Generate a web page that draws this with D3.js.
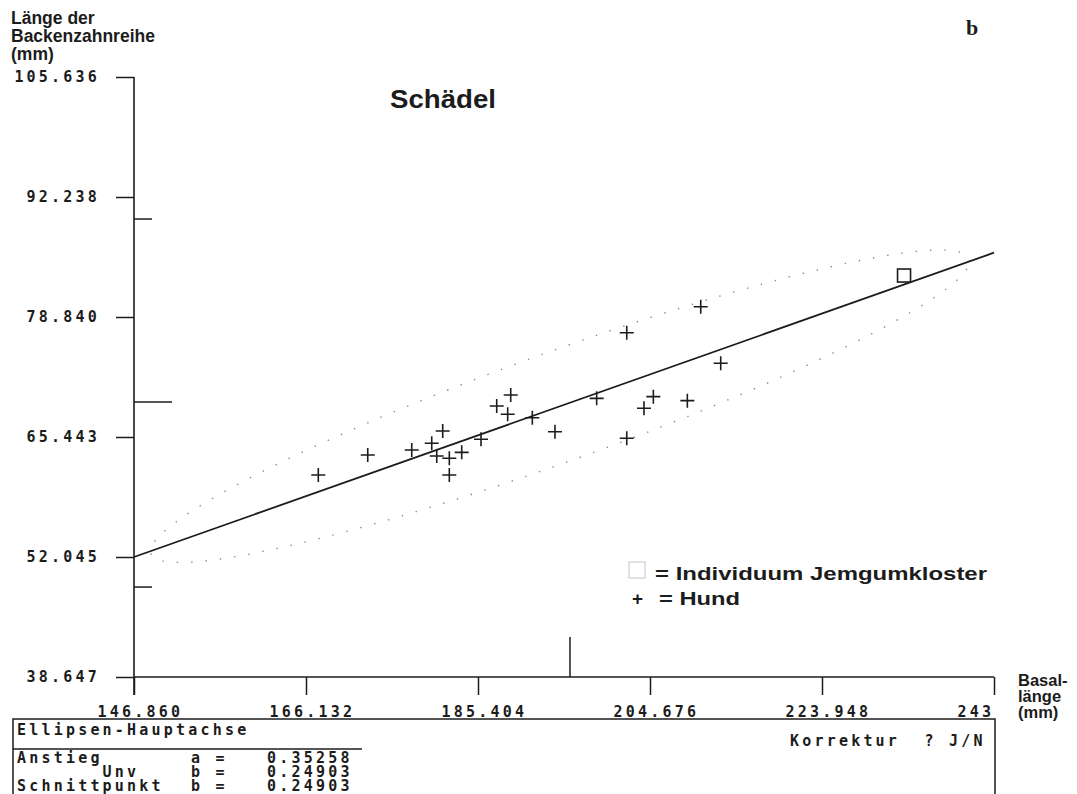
<!DOCTYPE html>
<html>
<head>
<meta charset="utf-8">
<script src="https://cdn.jsdelivr.net/npm/d3@7"></script>
<style>
  html, body { margin: 0; padding: 0; background: #fff; }
  svg { display: block; }
</style>
</head>
<body>
<script>
// ---------- data ----------
const xTicks = [146.860, 166.132, 185.404, 204.676, 223.948, 243.220];
const xTickLabels = ["146.860", "166.132", "185.404", "204.676", "223.948", "243"];
const yTicks = [38.647, 52.045, 65.443, 78.840, 92.238, 105.636];
const yTickLabels = ["38.647", "52.045", "65.443", "78.840", "92.238", "105.636"];

// Hund (+)
const hundX = [167.51, 173.05, 177.98, 180.22, 181.45, 180.78, 182.19, 183.58, 182.19, 185.74,
               187.50, 189.07, 188.73, 191.49, 194.03, 198.70, 202.07, 202.07, 204.00, 205.05,
               208.86, 210.36, 212.60];
const hundY = [61.20, 63.43, 63.99, 64.74, 66.11, 63.32, 63.07, 63.73, 61.20, 65.19,
               68.90, 70.13, 67.98, 67.60, 66.03, 69.76, 77.09, 65.30, 68.65, 69.95,
               69.50, 79.99, 73.67];
// Individuum Jemgumkloster (square)
const indivX = [233.14];
const indivY = [83.47];

// Ellipsen-Hauptachse
const slopeA = 0.35258;
const lineStartY = 52.045;
// ellipse (along main axis)
const ellipseCenterX = 194.6;
const ellipseHalfLengthX = 45.9;
const ellipseHalfWidthY = 6.5;
// marks on axes (mean / range)
const yMarks = [89.78, 69.35, 48.69];
const yMarkIsMean = [false, true, false];
const xMarks = [195.71];

const boxLines = [
  ["Anstieg", "a =", "0.35258"],
  ["       Unv", "b =", "0.24903"],
  ["Schnittpunkt", "b =", "0.24903"]
];

// ---------- setup ----------
const W = 1077, H = 794;
const svg = d3.select("body").append("svg").attr("width", W).attr("height", H);

const x = d3.scaleLinear().domain([xTicks[0], xTicks[xTicks.length - 1]]).range([134, 994]);
const y = d3.scaleLinear().domain([yTicks[0], yTicks[yTicks.length - 1]]).range([677, 77]);

const ink = "#1c1c1c";
const mono = "'DejaVu Sans Mono', monospace";
const sans = "'Liberation Sans', Arial, sans-serif";
const monoSize = 15, monoSpacing = 3.2;

// ---------- axes ----------
const gy = svg.append("g").attr("transform", "translate(134,0)")
  .call(d3.axisLeft(y).tickValues(yTicks).tickFormat((d, i) => yTickLabels[i]).tickSize(18).tickPadding(16));
gy.select(".domain").remove();
gy.selectAll(".tick line").attr("stroke", ink).attr("stroke-width", 1.5);
gy.selectAll(".tick text").attr("fill", ink).style("font-family", mono).style("font-size", monoSize + "px")
  .style("font-weight", "bold").style("letter-spacing", monoSpacing + "px");

const gx = svg.append("g").attr("transform", "translate(0,677)")
  .call(d3.axisBottom(x).tickValues(xTicks).tickFormat((d, i) => xTickLabels[i]).tickSize(18));
gx.select(".domain").remove();
gx.selectAll(".tick line").attr("stroke", ink).attr("stroke-width", 1.5);
gx.selectAll(".tick text").attr("fill", ink).attr("text-anchor", "start").attr("x", -37).attr("y", 40).attr("dy", 0)
  .style("font-family", mono).style("font-size", monoSize + "px").style("font-weight", "bold")
  .style("letter-spacing", monoSpacing + "px");

// axis lines
svg.append("line").attr("x1", x(xTicks[0])).attr("x2", x(xTicks[0]))
  .attr("y1", y(yTicks[yTicks.length - 1])).attr("y2", 695).attr("stroke", ink).attr("stroke-width", 1.6);
svg.append("line").attr("x1", x(xTicks[0])).attr("x2", x(xTicks[xTicks.length - 1]))
  .attr("y1", y(yTicks[0])).attr("y2", y(yTicks[0])).attr("stroke", ink).attr("stroke-width", 1.6);

// marks on the y axis (right side) and x axis (upward)
svg.selectAll(".ymark").data(yMarks).enter().append("line")
  .attr("x1", x(xTicks[0])).attr("x2", (d, i) => x(xTicks[0]) + (yMarkIsMean[i] ? 38 : 18))
  .attr("y1", d => y(d)).attr("y2", d => y(d)).attr("stroke", ink).attr("stroke-width", 1.5);
svg.selectAll(".xmark").data(xMarks).enter().append("line")
  .attr("x1", d => x(d)).attr("x2", d => x(d))
  .attr("y1", y(yTicks[0])).attr("y2", y(yTicks[0]) - 40).attr("stroke", ink).attr("stroke-width", 1.5);

// ---------- ellipse (dotted) ----------
const lineY = xv => lineStartY + slopeA * (xv - xTicks[0]);
const ellPts = d3.range(0, 361, 2).map(deg => {
  const t = deg * Math.PI / 180;
  const xv = ellipseCenterX + ellipseHalfLengthX * Math.cos(t);
  const yv = lineY(xv) + ellipseHalfWidthY * Math.sin(t);
  return [x(xv), y(yv)];
});
svg.append("path").attr("d", d3.line()(ellPts)).attr("fill", "none")
  .attr("stroke", "#8a8a8a").attr("stroke-width", 1.4).attr("stroke-dasharray", "1.4 13");

// ---------- regression line ----------
const x0 = xTicks[0], x1 = xTicks[xTicks.length - 1];
svg.append("line").attr("x1", x(x0)).attr("y1", y(lineY(x0))).attr("x2", x(x1)).attr("y2", y(lineY(x1)))
  .attr("stroke", ink).attr("stroke-width", 1.8);

// ---------- points ----------
svg.selectAll(".hund").data(hundX).enter().append("path")
  .attr("transform", (d, i) => `translate(${x(d)},${y(hundY[i])})`)
  .attr("d", "M-7,0H7M0,-7V7").attr("stroke", ink).attr("stroke-width", 1.6).attr("fill", "none");

svg.selectAll(".indiv").data(indivX).enter().append("rect")
  .attr("x", d => x(d) - 6.5).attr("y", (d, i) => y(indivY[i]) - 6.5).attr("width", 13).attr("height", 13)
  .attr("fill", "#fff").attr("stroke", ink).attr("stroke-width", 1.6);

// ---------- texts ----------
const yTitle = ["Länge der", "Backenzahnreihe", "(mm)"];
svg.selectAll(".ytitle").data(yTitle).enter().append("text")
  .attr("x", 11).attr("y", (d, i) => 24 + i * 18).text(d => d)
  .attr("fill", ink).style("font-family", sans).style("font-weight", "bold").style("font-size", "17.5px");

const xTitle = ["Basal-", "länge", "(mm)"];
svg.selectAll(".xtitle").data(xTitle).enter().append("text")
  .attr("x", 1018).attr("y", (d, i) => 686 + i * 16).text(d => d)
  .attr("fill", ink).style("font-family", sans).style("font-weight", "bold").style("font-size", "16.5px");

svg.append("text").attr("x", 390).attr("y", 108).text("Schädel")
  .attr("textLength", 106).attr("lengthAdjust", "spacingAndGlyphs")
  .attr("fill", ink).style("font-family", sans).style("font-weight", "bold").style("font-size", "25px");

svg.append("text").attr("x", 966).attr("y", 35).text("b")
  .attr("fill", ink).style("font-family", "'Liberation Serif', serif").style("font-weight", "bold").style("font-size", "22px");

// legend
svg.append("rect").attr("x", 629).attr("y", 562).attr("width", 16).attr("height", 16)
  .attr("fill", "none").attr("stroke", "#d8d8d8").attr("stroke-width", 1.5);
svg.append("text").attr("x", 655).attr("y", 580).text("= Individuum Jemgumkloster")
  .attr("textLength", 332).attr("lengthAdjust", "spacingAndGlyphs")
  .attr("fill", ink).style("font-family", sans).style("font-weight", "bold").style("font-size", "19px");
svg.append("text").attr("x", 632).attr("y", 605).text("+")
  .attr("fill", ink).style("font-family", sans).style("font-weight", "bold").style("font-size", "19px");
svg.append("text").attr("x", 659).attr("y", 605).text("= Hund")
  .attr("textLength", 81).attr("lengthAdjust", "spacingAndGlyphs")
  .attr("fill", ink).style("font-family", sans).style("font-weight", "bold").style("font-size", "19px");

// ---------- bottom box ----------
svg.append("path").attr("d", "M13,800V719H995V800").attr("fill", "none").attr("stroke", ink).attr("stroke-width", 1.5);
svg.append("line").attr("x1", 13).attr("x2", 362).attr("y1", 749).attr("y2", 749).attr("stroke", ink).attr("stroke-width", 1.5);

function mtext(str, xx, yy) {
  svg.append("text").attr("x", xx).attr("y", yy).text(str).attr("xml:space", "preserve")
    .style("white-space", "pre")
    .attr("fill", ink).style("font-family", mono).style("font-size", monoSize + "px").style("font-weight", "bold")
    .style("letter-spacing", monoSpacing + "px");
}
mtext("Ellipsen-Hauptachse", 17, 735);
mtext("Korrektur  ? J/N", 790, 746);
boxLines.forEach((row, i) => {
  const yy = 762.5 + i * 14;
  mtext(row[0], 17, yy);
  mtext(row[1], 191, yy);
  mtext(row[2], 267, yy);
});
</script>
</body>
</html>
